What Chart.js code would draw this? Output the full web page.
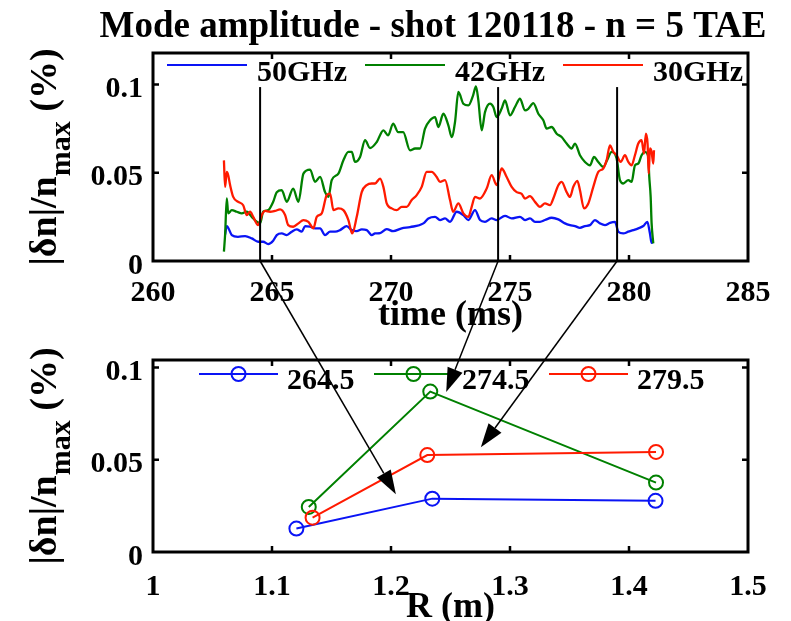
<!DOCTYPE html>
<html>
<head>
<meta charset="utf-8">
<script src="https://cdn.jsdelivr.net/npm/chart.js@4.4.1/dist/chart.umd.min.js"></script>
<style>
  html, body { margin: 0; padding: 0; background: #fff; }
  #wrap { position: relative; width: 791px; height: 621px; overflow: hidden; }
  canvas { position: absolute; left: 0; }
  #timeChart { top: 0; }
  #radiusChart { top: 335px; }
  #arrows { top: 0; pointer-events: none; }
</style>
</head>
<body>
<div id="wrap">
  <canvas id="timeChart" width="791" height="335"></canvas>
  <canvas id="radiusChart" width="791" height="286"></canvas>
  <canvas id="arrows" width="791" height="621"></canvas>
</div>
<script>
const FONT = '"Liberation Serif", "Times New Roman", serif';

const titleText = 'Mode amplitude - shot 120118 - n = 5 TAE';
const channelLabels = ['50GHz', '42GHz', '30GHz'];
const channelColors = ['#0a14f5', '#008000', '#ff1a00'];

// [time (ms), amplitude (%)]
const amp50GHz = [[263.03,0.0150],[263.10,0.0198],[263.31,0.0147],[263.57,0.0137],[263.87,0.0141],[264.15,0.0128],[264.42,0.0109],[264.63,0.0109],[264.84,0.0096],[265.05,0.0115],[265.20,0.0147],[265.41,0.0156],[265.62,0.0147],[265.83,0.0166],[266.04,0.0179],[266.25,0.0166],[266.39,0.0198],[266.60,0.0194],[266.81,0.0185],[267.02,0.0185],[267.23,0.0147],[267.44,0.0166],[267.65,0.0166],[267.86,0.0175],[268.14,0.0198],[268.35,0.0175],[268.56,0.0169],[268.77,0.0179],[268.98,0.0175],[269.19,0.0147],[269.33,0.0156],[269.54,0.0158],[269.82,0.0181],[270.09,0.0169],[270.45,0.0185],[270.80,0.0192],[271.36,0.0213],[271.57,0.0241],[271.85,0.0250],[272.06,0.0232],[272.27,0.0241],[272.48,0.0222],[272.76,0.0279],[273.04,0.0260],[273.25,0.0232],[273.53,0.0288],[273.74,0.0232],[273.95,0.0222],[274.23,0.0241],[274.44,0.0232],[274.79,0.0256],[275.07,0.0241],[275.42,0.0250],[275.63,0.0232],[275.84,0.0241],[276.05,0.0222],[276.26,0.0222],[276.47,0.0232],[276.75,0.0245],[277.03,0.0236],[277.31,0.0213],[277.52,0.0203],[277.73,0.0198],[277.94,0.0188],[278.15,0.0198],[278.36,0.0203],[278.57,0.0232],[278.78,0.0213],[278.99,0.0203],[279.20,0.0216],[279.41,0.0222],[279.55,0.0166],[279.76,0.0156],[279.97,0.0166],[280.18,0.0175],[280.39,0.0185],[280.60,0.0198],[280.77,0.0222],[280.88,0.0156],[280.95,0.0103],[281.02,0.0109]];

const amp42GHz = [[262.98,0.0053],[263.03,0.0150],[263.10,0.0354],[263.16,0.0270],[263.31,0.0288],[263.52,0.0279],[263.73,0.0270],[263.94,0.0279],[264.15,0.0250],[264.36,0.0222],[264.50,0.0213],[264.63,0.0279],[264.84,0.0288],[265.05,0.0335],[265.20,0.0390],[265.41,0.0401],[265.62,0.0335],[265.89,0.0410],[266.11,0.0335],[266.32,0.0495],[266.60,0.0518],[266.81,0.0448],[267.02,0.0476],[267.23,0.0390],[267.37,0.0363],[267.51,0.0458],[267.79,0.0495],[268.00,0.0570],[268.21,0.0618],[268.35,0.0618],[268.49,0.0561],[268.70,0.0589],[268.91,0.0684],[269.12,0.0640],[269.40,0.0674],[269.68,0.0740],[269.88,0.0712],[270.09,0.0778],[270.30,0.0730],[270.51,0.0730],[270.80,0.0627],[271.01,0.0637],[271.22,0.0637],[271.43,0.0750],[271.64,0.0797],[271.85,0.0815],[271.99,0.0759],[272.20,0.0834],[272.41,0.0768],[272.55,0.0702],[272.69,0.0787],[272.83,0.0957],[273.04,0.0891],[273.25,0.0881],[273.45,0.0938],[273.57,0.0989],[273.67,0.0910],[273.81,0.0740],[273.95,0.0843],[274.16,0.0891],[274.30,0.0872],[274.44,0.0815],[274.65,0.0863],[274.79,0.0910],[275.00,0.0825],[275.21,0.0872],[275.42,0.0919],[275.63,0.0853],[275.77,0.0862],[275.98,0.0894],[276.19,0.0834],[276.40,0.0797],[276.54,0.0750],[276.75,0.0759],[276.96,0.0721],[277.17,0.0702],[277.38,0.0665],[277.59,0.0637],[277.73,0.0665],[277.94,0.0599],[278.15,0.0561],[278.36,0.0542],[278.53,0.0589],[278.71,0.0561],[278.92,0.0533],[279.08,0.0571],[279.27,0.0618],[279.48,0.0580],[279.62,0.0458],[279.76,0.0439],[279.97,0.0458],[280.11,0.0448],[280.25,0.0542],[280.39,0.0552],[280.53,0.0599],[280.67,0.0618],[280.81,0.0589],[280.85,0.0480],[280.91,0.0363],[280.95,0.0213],[281.02,0.0100]];

const amp30GHz = [[262.98,0.0570],[263.03,0.0420],[263.10,0.0505],[263.16,0.0486],[263.24,0.0430],[263.37,0.0363],[263.58,0.0335],[263.79,0.0316],[263.94,0.0260],[264.08,0.0279],[264.21,0.0250],[264.42,0.0203],[264.57,0.0260],[264.71,0.0284],[264.92,0.0279],[265.13,0.0284],[265.34,0.0292],[265.55,0.0260],[265.68,0.0203],[265.89,0.0194],[266.11,0.0213],[266.32,0.0232],[266.53,0.0222],[266.74,0.0185],[266.88,0.0250],[267.09,0.0270],[267.30,0.0373],[267.44,0.0382],[267.58,0.0288],[267.79,0.0298],[268.00,0.0288],[268.21,0.0232],[268.37,0.0156],[268.56,0.0250],[268.77,0.0390],[268.98,0.0430],[269.19,0.0439],[269.33,0.0439],[269.54,0.0467],[269.68,0.0420],[269.82,0.0326],[270.03,0.0298],[270.24,0.0288],[270.45,0.0307],[270.66,0.0307],[270.87,0.0345],[271.08,0.0373],[271.29,0.0420],[271.50,0.0505],[271.71,0.0505],[271.92,0.0476],[272.06,0.0448],[272.27,0.0458],[272.48,0.0345],[272.61,0.0279],[272.83,0.0326],[273.04,0.0270],[273.25,0.0250],[273.39,0.0307],[273.53,0.0363],[273.74,0.0354],[274.02,0.0410],[274.23,0.0486],[274.44,0.0430],[274.65,0.0524],[274.86,0.0476],[275.07,0.0420],[275.28,0.0390],[275.49,0.0380],[275.63,0.0354],[275.84,0.0367],[276.05,0.0335],[276.26,0.0307],[276.47,0.0326],[276.68,0.0316],[276.82,0.0354],[277.03,0.0429],[277.17,0.0448],[277.38,0.0390],[277.52,0.0363],[277.66,0.0420],[277.83,0.0454],[277.94,0.0401],[278.11,0.0298],[278.29,0.0326],[278.50,0.0420],[278.71,0.0505],[278.92,0.0524],[279.06,0.0571],[279.20,0.0655],[279.34,0.0618],[279.48,0.0599],[279.65,0.0561],[279.83,0.0599],[279.97,0.0561],[280.11,0.0542],[280.25,0.0599],[280.39,0.0665],[280.53,0.0684],[280.63,0.0608],[280.71,0.0721],[280.78,0.0665],[280.83,0.0495],[280.88,0.0637],[280.95,0.0618],[281.02,0.0552],[281.05,0.0627]];

// times picked for the radial profiles, drawn as vertical bars on the top plot
const markerTimes = [264.5, 274.5, 279.5];
const markerTop = 0.0985;

// [R (m), amplitude (%)]
const profileLabels = ['264.5', '274.5', '279.5'];
const profile264 = [[1.1205,0.0127],[1.2347,0.0289],[1.4223,0.0277]];
const profile274 = [[1.1309,0.0244],[1.2330,0.0869],[1.4227,0.0376]];
const profile279 = [[1.1341,0.0186],[1.2305,0.0525],[1.4227,0.0542]];

// where each arrow ends on the profile plot [R, amplitude]
const arrowTips = [[1.2041,0.0313],[1.2464,0.0866],[1.2755,0.0567]];

const timeTicks = [260, 265, 270, 275, 280, 285];
const ampTicks = [0, 0.05, 0.1];
const ampTickLabels = ['0', '0.05', '0.1'];
const radiusTicks = [1, 1.1, 1.2, 1.3, 1.4, 1.5];
const radiusTickLabels = ['1', '1.1', '1.2', '1.3', '1.4', '1.5'];
const ampMaxTop = 0.1178;
const ampMaxBottom = 0.104;

function toXY(pairs) {
  return pairs.map(p => ({ x: p[0], y: p[1] }));
}

// box, inward ticks, y label with subscript and the in-axes legend
const frame = {
  id: 'frame',
  afterDraw(chart, args, opts) {
    const ctx = chart.ctx;
    const a = chart.chartArea;
    const xs = chart.scales.x, ys = chart.scales.y;
    ctx.save();
    ctx.strokeStyle = '#000';
    ctx.fillStyle = '#000';

    ctx.lineWidth = 2.5;
    ctx.beginPath();
    xs.ticks.forEach(t => {
      const px = xs.getPixelForValue(t.value);
      if (px <= a.left + 1 || px >= a.right - 1) return;
      ctx.moveTo(px, a.bottom); ctx.lineTo(px, a.bottom - 6);
      ctx.moveTo(px, a.top); ctx.lineTo(px, a.top + 6);
    });
    ys.ticks.forEach(t => {
      const py = ys.getPixelForValue(t.value);
      if (py >= a.bottom - 1 || py <= a.top + 1) return;
      ctx.moveTo(a.left, py); ctx.lineTo(a.left + 6, py);
      ctx.moveTo(a.right, py); ctx.lineTo(a.right - 6, py);
    });
    ctx.stroke();
    ctx.lineWidth = 3;
    ctx.strokeRect(a.left, a.top, a.right - a.left, a.bottom - a.top);

    // y axis title: |δn|/n_max (%)
    ctx.save();
    ctx.translate(opts.yTitleX, (a.top + a.bottom) / 2);
    ctx.rotate(-Math.PI / 2);
    ctx.textAlign = 'left';
    ctx.textBaseline = 'alphabetic';
    const big = 'bold 38px ' + FONT, small = 'bold 30px ' + FONT;
    ctx.font = big;
    const w1 = ctx.measureText('|δn|/n').width;
    const w3 = ctx.measureText(' (%)').width;
    ctx.font = small;
    const w2 = ctx.measureText('max').width;
    let x = -(w1 + w2 + w3) / 2;
    ctx.font = big;
    ctx.fillText('|δn|/n', x, 0);
    ctx.font = small;
    ctx.fillText('max', x + w1, 14);
    ctx.font = big;
    ctx.fillText(' (%)', x + w1 + w2, 0);
    ctx.restore();

    // legend
    const lg = opts.legend;
    ctx.font = 'bold 30px ' + FONT;
    ctx.textAlign = 'left';
    ctx.textBaseline = 'alphabetic';
    chart.data.datasets.filter(d => d.label).forEach((d, i) => {
      const lx = lg.x0 + i * lg.pitch;
      const ly = a.top + lg.lineDy;
      ctx.strokeStyle = d.borderColor;
      ctx.lineWidth = 2;
      ctx.beginPath();
      ctx.moveTo(lx, ly); ctx.lineTo(lx + lg.lineLen, ly);
      ctx.stroke();
      if (lg.marker) {
        ctx.beginPath();
        ctx.arc(lx + lg.lineLen / 2, ly, 7, 0, Math.PI * 2);
        ctx.stroke();
      }
      ctx.fillStyle = '#000';
      ctx.fillText(d.label, lx + lg.lineLen + lg.gap, a.top + lg.baseDy);
    });
    ctx.restore();
  }
};

const tickFont = { family: FONT, size: 30, weight: 'bold', lineHeight: 1 };
const labelFont = { family: FONT, size: 36, weight: 'bold', lineHeight: 1 };

const topDatasets = [amp50GHz, amp42GHz, amp30GHz].map((pts, i) => ({
  label: channelLabels[i],
  data: toXY(pts),
  borderColor: channelColors[i],
  borderWidth: 2.3,
  pointRadius: 0,
  cubicInterpolationMode: 'monotone',
  order: 3 - i
}));
markerTimes.forEach(t => {
  topDatasets.push({
    data: [{ x: t, y: 0 }, { x: t, y: markerTop }],
    borderColor: '#000',
    borderWidth: 2,
    pointRadius: 0,
    order: 0
  });
});

const timeChart = new Chart(document.getElementById('timeChart'), {
  type: 'line',
  data: { datasets: topDatasets },
  plugins: [frame],
  options: {
    responsive: false,
    animation: false,
    events: [],
    layout: { padding: { left: 75, right: 0, top: 0, bottom: 0 } },
    plugins: {
      legend: { display: false },
      tooltip: { enabled: false },
      title: {
        display: true,
        text: titleText,
        color: '#000',
        font: { family: FONT, size: 37, weight: 'bold', lineHeight: 1.2 },
        padding: { top: 5, bottom: 3.6 }
      },
      frame: {
        yTitleX: 56,
        legend: { x0: 167, pitch: 198, lineLen: 80, gap: 10, lineDy: 12, baseDy: 28, marker: false }
      }
    },
    scales: {
      x: {
        type: 'linear',
        min: 260,
        max: 285,
        afterBuildTicks: s => { s.ticks = timeTicks.map(v => ({ value: v })); },
        afterFit: s => { s.height = 74; },
        grid: { display: false, drawTicks: false },
        border: { display: false },
        ticks: { color: '#000', font: tickFont, padding: 17, maxRotation: 0, autoSkip: false, callback: v => String(v) },
        title: { display: true, text: 'time (ms)', color: '#000', font: labelFont, padding: { top: 0, bottom: 1 } }
      },
      y: {
        type: 'linear',
        min: 0,
        max: ampMaxTop,
        afterBuildTicks: s => { s.ticks = ampTicks.map(v => ({ value: v })); },
        afterFit: s => { s.width = 78; },
        grid: { display: false, drawTicks: false },
        border: { display: false },
        ticks: { color: '#000', font: tickFont, padding: 10, labelOffset: 5, callback: (v, i) => ampTickLabels[i] }
      },
      yRight: {
        type: 'linear',
        position: 'right',
        afterFit: s => { s.width = 43; },
        grid: { display: false, drawTicks: false },
        border: { display: false },
        ticks: { display: false }
      }
    }
  }
});

const bottomDatasets = [profile264, profile274, profile279].map((pts, i) => ({
  label: profileLabels[i],
  data: toXY(pts),
  borderColor: channelColors[i],
  borderWidth: 2,
  pointStyle: 'circle',
  pointRadius: 7,
  pointBorderWidth: 2,
  pointBorderColor: channelColors[i],
  pointBackgroundColor: 'rgba(0,0,0,0)',
  order: 3 - i
}));

const radiusChart = new Chart(document.getElementById('radiusChart'), {
  type: 'line',
  data: { datasets: bottomDatasets },
  plugins: [frame],
  options: {
    responsive: false,
    animation: false,
    events: [],
    layout: { padding: { left: 75, right: 43, top: 8, bottom: 0 } },
    plugins: {
      legend: { display: false },
      tooltip: { enabled: false },
      frame: {
        yTitleX: 56,
        legend: { x0: 199, pitch: 175, lineLen: 79, gap: 9, lineDy: 14, baseDy: 29, marker: true }
      }
    },
    scales: {
      x: {
        type: 'linear',
        min: 1,
        max: 1.5,
        afterBuildTicks: s => { s.ticks = radiusTicks.map(v => ({ value: v })); },
        afterFit: s => { s.height = 69; },
        grid: { display: false, drawTicks: false },
        border: { display: false },
        ticks: { color: '#000', font: tickFont, padding: 20, maxRotation: 0, autoSkip: false, callback: (v, i) => radiusTickLabels[i] },
        title: { display: true, text: 'R (m)', color: '#000', font: { family: FONT, size: 36, weight: 'bold', lineHeight: 0.75 }, padding: { top: 0, bottom: 0 } }
      },
      y: {
        type: 'linear',
        min: 0,
        max: ampMaxBottom,
        afterBuildTicks: s => { s.ticks = ampTicks.map(v => ({ value: v })); },
        afterFit: s => { s.width = 78; },
        grid: { display: false, drawTicks: false },
        border: { display: false },
        ticks: { color: '#000', font: tickFont, padding: 10, labelOffset: 5, callback: (v, i) => ampTickLabels[i] }
      }
    }
  }
});

// arrows from the time axis down to the profiles
function drawArrows() {
  const canvas = document.getElementById('arrows');
  const ctx = canvas.getContext('2d');
  const topOff = timeChart.canvas.offsetTop;
  const botOff = radiusChart.canvas.offsetTop;
  ctx.strokeStyle = '#000';
  ctx.fillStyle = '#000';
  ctx.lineWidth = 1.5;
  markerTimes.forEach((t, i) => {
    const x0 = timeChart.scales.x.getPixelForValue(t);
    const y0 = timeChart.scales.y.getPixelForValue(0) + topOff;
    const x1 = radiusChart.scales.x.getPixelForValue(arrowTips[i][0]);
    const y1 = radiusChart.scales.y.getPixelForValue(arrowTips[i][1]) + botOff;
    const ang = Math.atan2(y1 - y0, x1 - x0);
    const headLen = 24, headHalf = 8;
    const bx = x1 - headLen * Math.cos(ang), by = y1 - headLen * Math.sin(ang);
    ctx.beginPath();
    ctx.moveTo(x0, y0);
    ctx.lineTo(bx, by);
    ctx.stroke();
    ctx.beginPath();
    ctx.moveTo(x1, y1);
    ctx.lineTo(bx + headHalf * Math.sin(ang), by - headHalf * Math.cos(ang));
    ctx.lineTo(bx - headHalf * Math.sin(ang), by + headHalf * Math.cos(ang));
    ctx.closePath();
    ctx.fill();
  });
}

drawArrows();
</script>
</body>
</html>
